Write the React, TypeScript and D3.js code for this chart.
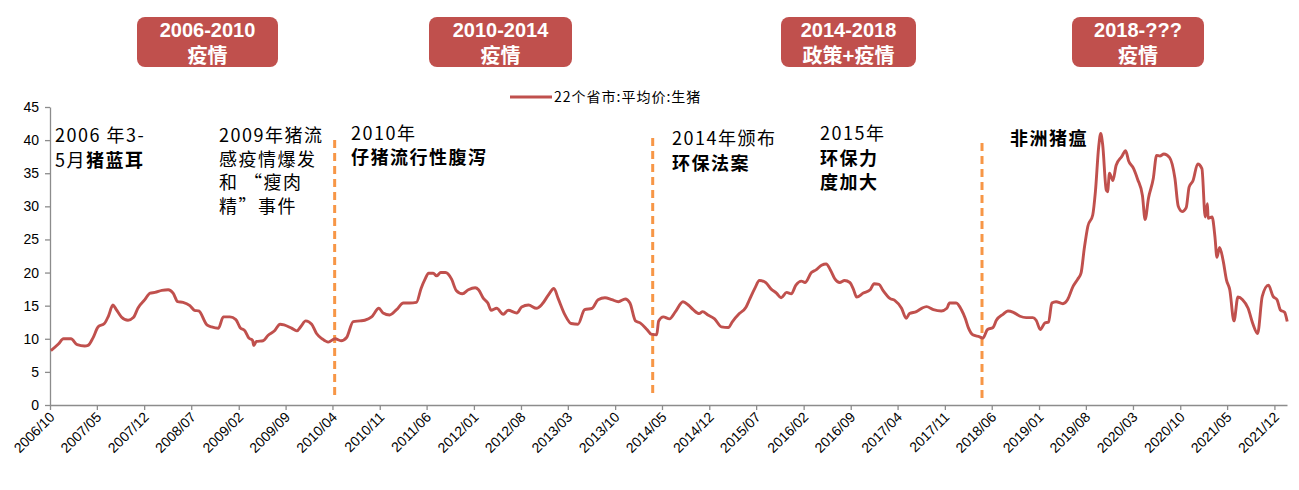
import React, { useEffect, useRef } from 'react';
import * as d3 from 'd3';

// x axis tick labels (every 7 months)
const tickLabels = [
  '2006/10', '2007/05', '2007/12', '2008/07', '2009/02', '2009/09', '2010/04',
  '2010/11', '2011/06', '2012/01', '2012/08', '2013/03', '2013/10', '2014/05',
  '2014/12', '2015/07', '2016/02', '2016/09', '2017/04', '2017/11', '2018/06',
  '2019/01', '2019/08', '2020/03', '2020/10', '2021/05', '2021/12',
];

const yTicks = [0, 5, 10, 15, 20, 25, 30, 35, 40, 45];

const axisStart = '2006-10-01';
const axisEnd = '2022-01-27';

// 22个省市:平均价:生猪 (元/公斤)
const priceSeries: [string, number][] = [
  ['2006-10-05', 8.2], ['2006-11-08', 9.2], ['2006-12-01', 10.0], ['2007-01-04', 10.0],
  ['2007-02-01', 9.1], ['2007-03-07', 8.9], ['2007-03-22', 9.0], ['2007-04-13', 10.1],
  ['2007-05-07', 11.8], ['2007-06-04', 12.3], ['2007-06-22', 13.4], ['2007-07-13', 15.1],
  ['2007-07-28', 14.4], ['2007-08-20', 13.3], ['2007-09-19', 12.8], ['2007-10-13', 13.2],
  ['2007-11-04', 14.7], ['2007-12-04', 15.9], ['2007-12-28', 16.9], ['2008-01-19', 17.0],
  ['2008-02-19', 17.3], ['2008-03-19', 17.4], ['2008-04-10', 16.9], ['2008-05-01', 15.6],
  ['2008-05-25', 15.5], ['2008-06-25', 15.0], ['2008-07-16', 14.3], ['2008-08-04', 14.2],
  ['2008-09-10', 12.1], ['2008-10-01', 11.8], ['2008-11-01', 11.6], ['2008-11-23', 13.3],
  ['2008-12-23', 13.3], ['2009-01-19', 12.9], ['2009-02-07', 11.7], ['2009-03-01', 11.2],
  ['2009-03-19', 10.1], ['2009-04-04', 9.8], ['2009-04-10', 9.0], ['2009-04-22', 9.6],
  ['2009-05-22', 9.7], ['2009-06-13', 10.5], ['2009-07-13', 11.2], ['2009-08-07', 12.2],
  ['2009-08-25', 12.1], ['2009-09-28', 11.6], ['2009-10-22', 11.2], ['2009-11-10', 11.9],
  ['2009-12-01', 12.7], ['2009-12-28', 12.2], ['2010-01-19', 10.8], ['2010-02-13', 10.0],
  ['2010-03-13', 9.5], ['2010-04-13', 10.0], ['2010-05-10', 9.7], ['2010-06-04', 10.2],
  ['2010-07-04', 12.6], ['2010-08-04', 12.7], ['2010-08-25', 12.8], ['2010-09-25', 13.3],
  ['2010-10-28', 14.6], ['2010-11-16', 13.9], ['2010-12-16', 13.6], ['2011-01-16', 14.4],
  ['2011-02-16', 15.4], ['2011-03-16', 15.4], ['2011-04-16', 15.5], ['2011-05-07', 17.6],
  ['2011-05-25', 19.0], ['2011-06-10', 19.9], ['2011-07-01', 19.9], ['2011-07-16', 19.5],
  ['2011-08-04', 20.0], ['2011-08-25', 20.0], ['2011-09-22', 19.0], ['2011-10-13', 17.3],
  ['2011-11-10', 16.8], ['2011-12-07', 17.4], ['2012-01-07', 17.7], ['2012-01-22', 17.4],
  ['2012-02-13', 16.1], ['2012-03-04', 15.4], ['2012-03-19', 14.3], ['2012-04-13', 14.6],
  ['2012-05-13', 13.7], ['2012-06-04', 14.3], ['2012-07-13', 13.9], ['2012-08-04', 14.8],
  ['2012-09-04', 15.1], ['2012-10-10', 14.6], ['2012-11-04', 15.2], ['2012-12-01', 16.5],
  ['2012-12-28', 17.6], ['2013-01-16', 16.1], ['2013-02-16', 13.6], ['2013-03-16', 12.3],
  ['2013-04-16', 12.2], ['2013-05-16', 14.4], ['2013-06-19', 14.6], ['2013-07-16', 15.9],
  ['2013-08-16', 16.2], ['2013-09-16', 15.9], ['2013-10-16', 15.6], ['2013-11-16', 16.0],
  ['2013-12-07', 15.4], ['2014-01-01', 12.7], ['2014-01-22', 12.4], ['2014-02-22', 11.4],
  ['2014-03-13', 10.7], ['2014-04-07', 10.6], ['2014-04-16', 12.7], ['2014-05-07', 13.3],
  ['2014-06-04', 13.0], ['2014-07-01', 14.1], ['2014-08-04', 15.6], ['2014-08-28', 15.1],
  ['2014-09-19', 14.4], ['2014-10-16', 13.8], ['2014-11-01', 14.1], ['2014-11-25', 13.6],
  ['2014-12-25', 13.0], ['2015-01-25', 11.8], ['2015-02-25', 11.7], ['2015-03-16', 12.6],
  ['2015-04-16', 13.8], ['2015-05-16', 14.75], ['2015-06-01', 15.9], ['2015-06-25', 17.6],
  ['2015-07-16', 18.8], ['2015-08-13', 18.5], ['2015-09-07', 17.5], ['2015-10-01', 16.9],
  ['2015-10-22', 16.2], ['2015-11-16', 17.0], ['2015-12-07', 16.8], ['2015-12-28', 18.1],
  ['2016-01-22', 18.7], ['2016-02-07', 18.5], ['2016-03-07', 20.0], ['2016-03-28', 20.4],
  ['2016-04-22', 21.1], ['2016-05-13', 21.3], ['2016-06-01', 20.4], ['2016-06-22', 19.0],
  ['2016-07-13', 18.5], ['2016-08-04', 18.8], ['2016-08-28', 18.5], ['2016-09-13', 17.5],
  ['2016-09-28', 16.3], ['2016-10-28', 16.9], ['2016-11-28', 17.4], ['2016-12-16', 18.3],
  ['2017-01-07', 18.2], ['2017-01-25', 17.3], ['2017-02-25', 16.1], ['2017-03-19', 15.8],
  ['2017-04-19', 14.6], ['2017-05-10', 13.1], ['2017-05-25', 13.8], ['2017-06-25', 14.1],
  ['2017-07-19', 14.6], ['2017-08-10', 14.85], ['2017-09-10', 14.4], ['2017-10-16', 14.2],
  ['2017-11-10', 14.6], ['2017-11-22', 15.4], ['2017-12-22', 15.4], ['2018-01-16', 14.3],
  ['2018-02-01', 13.1], ['2018-02-16', 11.6], ['2018-03-07', 10.6], ['2018-04-07', 10.3],
  ['2018-04-22', 10.1], ['2018-05-13', 11.4], ['2018-06-07', 11.7], ['2018-06-22', 12.8],
  ['2018-07-22', 13.7], ['2018-08-13', 14.2], ['2018-09-07', 14.0], ['2018-10-07', 13.4],
  ['2018-11-04', 13.2], ['2018-12-04', 13.2], ['2018-12-19', 12.8], ['2019-01-07', 11.4],
  ['2019-01-28', 12.4], ['2019-02-13', 12.5], ['2019-02-28', 15.4], ['2019-03-19', 15.6],
  ['2019-04-19', 15.3], ['2019-05-10', 15.9], ['2019-06-04', 17.9], ['2019-06-25', 19.0],
  ['2019-07-10', 19.9], ['2019-07-25', 23.7], ['2019-08-10', 27.0], ['2019-09-01', 28.7],
  ['2019-09-13', 32.2], ['2019-09-28', 39.0], ['2019-10-07', 41.0], ['2019-10-16', 39.3],
  ['2019-11-01', 32.5], ['2019-11-07', 32.2], ['2019-11-16', 35.0], ['2019-12-01', 33.9],
  ['2019-12-16', 36.2], ['2020-01-10', 37.5], ['2020-01-28', 38.4], ['2020-02-10', 36.9],
  ['2020-03-04', 35.7], ['2020-03-22', 34.1], ['2020-04-13', 31.6], ['2020-04-25', 28.0],
  ['2020-05-10', 31.2], ['2020-06-01', 34.2], ['2020-06-16', 37.7], ['2020-07-01', 37.6],
  ['2020-07-19', 37.9], ['2020-08-13', 37.4], ['2020-09-07', 34.2], ['2020-09-22', 30.0],
  ['2020-10-10', 29.2], ['2020-10-28', 29.8], ['2020-11-10', 32.9], ['2020-11-28', 33.9],
  ['2020-12-19', 36.4], ['2021-01-07', 35.7], ['2021-01-22', 28.4], ['2021-02-01', 30.4],
  ['2021-02-04', 28.2], ['2021-02-22', 28.4], ['2021-03-07', 25.4], ['2021-03-16', 22.3],
  ['2021-03-28', 23.8], ['2021-04-13', 21.8], ['2021-04-28', 18.9], ['2021-05-13', 17.4],
  ['2021-06-01', 12.7], ['2021-06-19', 16.3], ['2021-07-10', 15.9], ['2021-08-04', 14.6],
  ['2021-08-25', 12.3], ['2021-09-16', 10.8], ['2021-10-07', 16.4], ['2021-11-04', 18.1],
  ['2021-11-25', 16.4], ['2021-12-13', 15.9], ['2021-12-28', 14.35], ['2022-01-16', 14.0],
  ['2022-01-28', 12.6],
];

// vertical dashed markers
const eventDates = ['2010-04-11', '2014-03-20', '2018-04-18'];

const periodTitles = ['2006-2010', '2010-2014', '2014-2018', '2018-???'];
const periodSubtitles = ['疫情', '疫情', '政策+疫情', '疫情'];

const legendLabel = '22个省市:平均价:生猪';

type Part = { t: string; b?: boolean };
const annotations: Part[][][] = [
  [[{ t: '2006 年3-' }], [{ t: '5月' }, { t: '猪蓝耳', b: true }]],
  [[{ t: '2009年猪流' }], [{ t: '感疫情爆发' }], [{ t: '和 “瘦肉' }], [{ t: '精”事件' }]],
  [[{ t: '2010年' }], [{ t: '仔猪流行性腹泻', b: true }]],
  [[{ t: '2014年颁布' }], [{ t: '环保法案', b: true }]],
  [[{ t: '2015年' }], [{ t: '环保力', b: true }], [{ t: '度加大', b: true }]],
  [[{ t: '非洲猪瘟', b: true }]],
];

// layout
const W = 1299;
const H = 490;
const plot = { left: 50, right: 1287, top: 107, bottom: 405 };
const boxLayout = [
  { x: 137, w: 141 },
  { x: 429, w: 143 },
  { x: 781, w: 135 },
  { x: 1072, w: 132 },
];
const annoLayout = [
  { x: 55, y: 142, dy: 25 },
  { x: 219, y: 142, dy: 23.5 },
  { x: 351, y: 140, dy: 24 },
  { x: 672, y: 145, dy: 25 },
  { x: 820, y: 140, dy: 24.5 },
  { x: 1010, y: 145, dy: 24 },
];
const markerSpan = [
  [140, 398],
  [138, 397],
  [143, 400],
];

const RED = '#C0504D';
const ORANGE = '#F79646';
const AXIS = '#8C8C8C';
const CJK = '"Noto Sans CJK SC", "Liberation Sans", sans-serif';

const App: React.FC = () => {
  const svgRef = useRef<SVGSVGElement>(null);

  useEffect(() => {
    if (!svgRef.current) return;
    const svg = d3.select(svgRef.current);
    svg.selectAll('*').remove();

    const parse = d3.timeParse('%Y-%m-%d');
    const parseTick = d3.timeParse('%Y/%m');

    const x = d3.scaleTime()
      .domain([parse(axisStart)!, parse(axisEnd)!])
      .range([plot.left, plot.right]);

    const y = d3.scaleLinear()
      .domain([0, 45])
      .range([plot.bottom, plot.top]);

    // y axis
    const yAxis = svg.append('g')
      .attr('transform', `translate(${plot.left},0)`)
      .call(d3.axisLeft(y).tickValues(yTicks).tickSize(5).tickSizeOuter(0).tickPadding(6));
    yAxis.select('.domain').attr('stroke', AXIS).attr('stroke-width', 1.3);
    yAxis.selectAll('.tick line').attr('stroke', AXIS).attr('stroke-width', 1.3);
    yAxis.selectAll('.tick text')
      .attr('fill', '#000')
      .style('font-family', '"Liberation Sans", Arial, sans-serif')
      .style('font-size', '14px');

    // x axis
    const tickDates = tickLabels.map(s => parseTick(s)!);
    const xAxis = svg.append('g')
      .attr('transform', `translate(0,${plot.bottom})`)
      .call(
        d3.axisBottom(x)
          .tickValues(tickDates)
          .tickSize(5)
          .tickSizeOuter(0)
          .tickFormat((_, i) => tickLabels[i])
      );
    xAxis.select('.domain').attr('stroke', AXIS).attr('stroke-width', 1.3);
    xAxis.selectAll('.tick line').attr('stroke', AXIS).attr('stroke-width', 1.3);
    xAxis.selectAll('.tick text')
      .attr('fill', '#000')
      .attr('text-anchor', 'end')
      .attr('dy', null)
      .attr('y', 0)
      .attr('transform', 'translate(5,13) rotate(-45)')
      .style('font-family', '"Liberation Sans", Arial, sans-serif')
      .style('font-size', '14px');

    // dashed event markers
    svg.append('g')
      .selectAll('line')
      .data(eventDates)
      .join('line')
      .attr('x1', d => x(parse(d)!))
      .attr('x2', d => x(parse(d)!))
      .attr('y1', (_, i) => markerSpan[i][0])
      .attr('y2', (_, i) => markerSpan[i][1])
      .attr('stroke', ORANGE)
      .attr('stroke-width', 3)
      .attr('stroke-dasharray', '8,5');

    // price line
    const line = d3.line<[string, number]>()
      .x(d => x(parse(d[0])!))
      .y(d => y(d[1]))
      .curve(d3.curveMonotoneX);

    svg.append('path')
      .datum(priceSeries)
      .attr('d', line)
      .attr('fill', 'none')
      .attr('stroke', RED)
      .attr('stroke-width', 2.9)
      .attr('stroke-linejoin', 'round');

    // period boxes
    const boxes = svg.append('g')
      .selectAll('g')
      .data(periodTitles)
      .join('g')
      .attr('transform', (_, i) => `translate(${boxLayout[i].x},17)`);

    boxes.append('rect')
      .attr('width', (_, i) => boxLayout[i].w)
      .attr('height', 50)
      .attr('rx', 8)
      .attr('fill', RED);

    boxes.append('text')
      .attr('x', (_, i) => boxLayout[i].w / 2)
      .attr('y', 20)
      .attr('text-anchor', 'middle')
      .attr('fill', '#fff')
      .style('font-family', '"Liberation Sans", Arial, sans-serif')
      .style('font-weight', 'bold')
      .style('font-size', '20px')
      .text(d => d);

    boxes.append('text')
      .attr('x', (_, i) => boxLayout[i].w / 2)
      .attr('y', 46)
      .attr('text-anchor', 'middle')
      .attr('fill', '#fff')
      .style('font-family', CJK)
      .style('font-weight', 'bold')
      .style('font-size', '20px')
      .text((_, i) => periodSubtitles[i]);

    // legend
    const legend = svg.append('g').attr('transform', 'translate(510,97)');
    legend.append('line')
      .attr('x1', 0).attr('x2', 42)
      .attr('stroke', RED).attr('stroke-width', 3);
    legend.append('text')
      .attr('x', 44)
      .attr('y', 5)
      .style('font-family', CJK)
      .style('font-size', '14px')
      .style('letter-spacing', '1px')
      .attr('fill', '#000')
      .text(legendLabel);

    // annotations
    annotations.forEach((lines, i) => {
      const lay = annoLayout[i];
      const t = svg.append('text')
        .style('font-family', CJK)
        .style('font-size', '18px')
        .style('letter-spacing', '1.5px')
        .attr('fill', '#000');
      lines.forEach((parts, j) => {
        parts.forEach((p, k) => {
          const ts = t.append('tspan').text(p.t);
          if (k === 0) ts.attr('x', lay.x).attr('y', lay.y + j * lay.dy);
          if (p.b) ts.style('font-weight', 'bold');
        });
      });
    });
  }, []);

  return (
    <svg
      ref={svgRef}
      width={W}
      height={H}
      style={{ position: 'absolute', left: 0, top: 0, background: '#fff' }}
    />
  );
};

export default App;
